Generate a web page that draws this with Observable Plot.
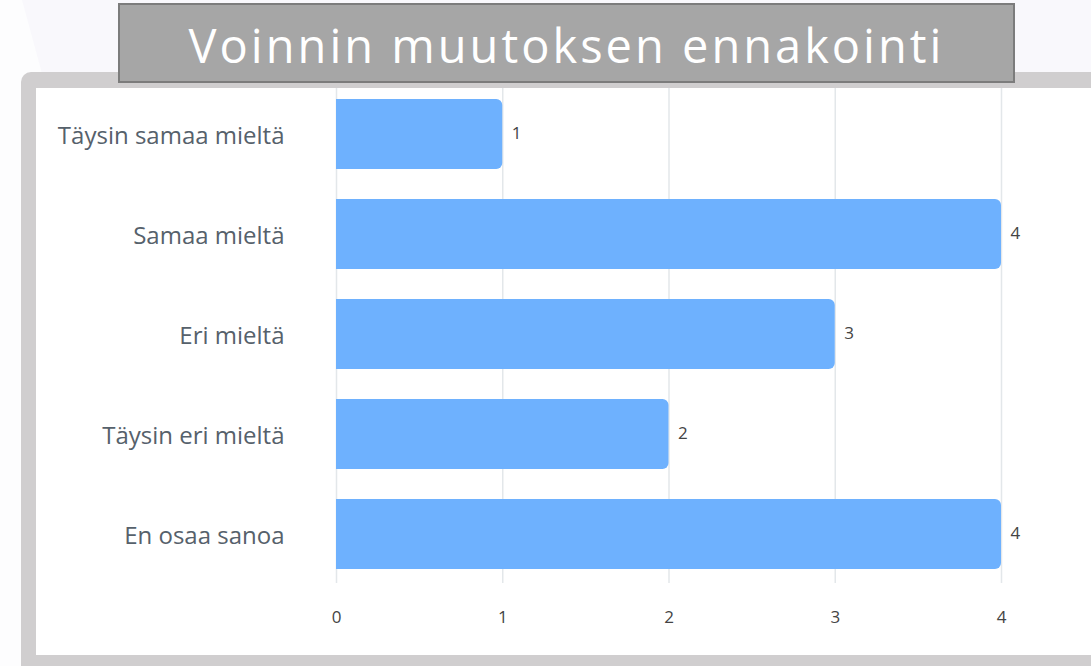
<!DOCTYPE html>
<html><head><meta charset="utf-8">
<script src="https://cdn.jsdelivr.net/npm/d3@7"></script>
<script src="https://cdn.jsdelivr.net/npm/@observablehq/plot@0.6"></script>
<style>
html,body{margin:0;padding:0;width:1091px;height:666px;overflow:hidden;background:#f9f8fc;font-family:"Open Sans",sans-serif;}
#shade{position:absolute;left:0;top:0;width:60px;height:666px;background:#fdfdfe;clip-path:polygon(0 0,22px 0,60px 140px,60px 666px,0 666px);}
#frame{position:absolute;left:21px;top:72px;width:1090px;height:620px;background:#d0cecf;border-radius:10px 0 0 0;}
#panel{position:absolute;left:36px;top:88px;width:1055px;height:567px;background:#fff;}
#title{position:absolute;left:118px;top:3px;width:893px;height:76px;background:#a6a6a6;border:2px solid #7c7c7c;color:#fff;font-size:47px;line-height:80px;text-align:center;letter-spacing:3px;}
#chart{position:absolute;left:36px;top:88px;}
</style></head>
<body>
<div id="shade"></div>
<div id="frame"></div>
<div id="panel"></div>
<div id="title">Voinnin muutoksen ennakointi</div>
<div id="chart"></div>
<script>
const categories = ["Täysin samaa mieltä", "Samaa mieltä", "Eri mieltä", "Täysin eri mieltä", "En osaa sanoa"];
const counts = [1, 4, 3, 2, 4];
const xTicks = [0, 1, 2, 3, 4];

const data = categories.map((c, i) => ({category: c, count: counts[i]}));

const chart = Plot.plot({
  width: 1055,
  height: 567,
  marginLeft: 300,
  marginRight: 90,
  marginTop: 11,
  marginBottom: 86,
  style: {background: "transparent", fontFamily: "Open Sans, sans-serif"},
  x: {domain: [0, 4], ticks: xTicks, label: null},
  y: {domain: categories, paddingInner: 0.3, paddingOuter: 0, label: null},
  marks: [
    Plot.gridX(xTicks, {stroke: "#e3e7ea", strokeOpacity: 1, strokeWidth: 1.5, insetTop: -11, insetBottom: -14}),
    Plot.barX(data, {x: "count", y: "category", fill: "#6eb1fe", rx2: 6}),
    Plot.text(data, {x: "count", y: "category", text: d => String(d.count), textAnchor: "start", dx: 9, dy: -1, fill: "#444", fontSize: 17}),
    Plot.axisX(xTicks, {tickSize: 0, tickPadding: 41, fontSize: 17, fill: "#444", tickFormat: d => String(d), label: null}),
    Plot.axisY({tickSize: 0, tickPadding: 52, fontSize: 24, fill: "#56616b", label: null, dy: 2, style: {letterSpacing: "0.8px"}})
  ]
});
document.getElementById("chart").appendChild(chart);
</script>
</body></html>
